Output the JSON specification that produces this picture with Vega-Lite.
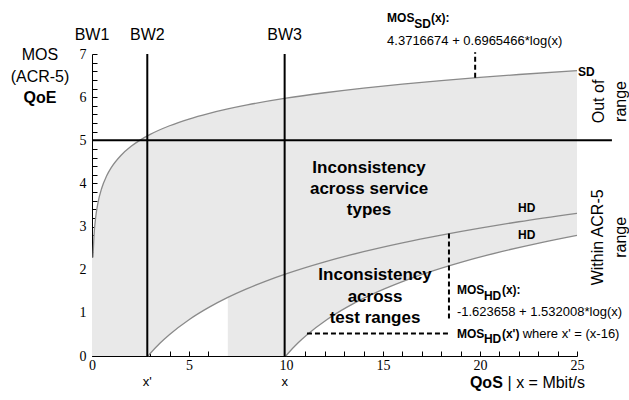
{
  "$schema": "https://vega.github.io/schema/vega-lite/v6.json",
  "width": 485,
  "height": 302,
  "autosize": {"type": "none"},
  "padding": {"left": 92, "top": 54, "right": 52, "bottom": 44},
  "background": "white",
  "config": {
    "view": {"stroke": null},
    "font": "Liberation Sans",
    "axis": {
      "grid": false,
      "title": null,
      "domainColor": "black",
      "domainWidth": 1,
      "tickColor": "black",
      "tickWidth": 1,
      "labelColor": "black",
      "labelFontSize": 14,
      "zindex": 1
    }
  },
  "datasets": {
    "bands": [
      {"band": "A", "x": 0, "y": 0, "y2": 2.285},
      {"band": "A", "x": 0.05, "y": 0, "y2": 2.285},
      {"band": "A", "x": 0.1, "y": 0, "y2": 2.768},
      {"band": "A", "x": 0.2, "y": 0, "y2": 3.251},
      {"band": "A", "x": 0.3, "y": 0, "y2": 3.533},
      {"band": "A", "x": 0.5, "y": 0, "y2": 3.889},
      {"band": "A", "x": 0.75, "y": 0, "y2": 4.171},
      {"band": "A", "x": 1, "y": 0, "y2": 4.372},
      {"band": "A", "x": 1.5, "y": 0, "y2": 4.654},
      {"band": "A", "x": 2, "y": 0, "y2": 4.855},
      {"band": "A", "x": 2.5, "y": 0, "y2": 5.010},
      {"band": "A", "x": 2.886, "y": 0, "y2": 5.110},
      {"band": "A", "x": 3, "y": 0.059, "y2": 5.137},
      {"band": "A", "x": 3.5, "y": 0.296, "y2": 5.244},
      {"band": "A", "x": 4, "y": 0.500, "y2": 5.337},
      {"band": "A", "x": 5, "y": 0.842, "y2": 5.493},
      {"band": "A", "x": 6, "y": 1.121, "y2": 5.620},
      {"band": "A", "x": 7, "y": 1.358, "y2": 5.727},
      {"band": "A", "x": 8, "y": 1.562, "y2": 5.820},
      {"band": "A", "x": 9, "y": 1.743, "y2": 5.902},
      {"band": "A", "x": 10, "y": 1.904, "y2": 5.976},
      {"band": "A", "x": 12, "y": 2.183, "y2": 6.102},
      {"band": "A", "x": 14, "y": 2.419, "y2": 6.210},
      {"band": "A", "x": 16, "y": 2.624, "y2": 6.303},
      {"band": "A", "x": 18, "y": 2.804, "y2": 6.385},
      {"band": "A", "x": 20, "y": 2.966, "y2": 6.458},
      {"band": "A", "x": 22, "y": 3.112, "y2": 6.525},
      {"band": "A", "x": 25, "y": 3.308, "y2": 6.614},
      {"band": "B", "x": 7, "y": 0, "y2": 1.358},
      {"band": "B", "x": 8, "y": 0, "y2": 1.562},
      {"band": "B", "x": 9, "y": 0, "y2": 1.743},
      {"band": "B", "x": 9.986, "y": 0, "y2": 1.902},
      {"band": "B", "x": 10.1, "y": 0.059, "y2": 1.919},
      {"band": "B", "x": 10.6, "y": 0.296, "y2": 1.993},
      {"band": "B", "x": 11.1, "y": 0.500, "y2": 2.064},
      {"band": "B", "x": 12.1, "y": 0.842, "y2": 2.196},
      {"band": "B", "x": 13.1, "y": 1.121, "y2": 2.318},
      {"band": "B", "x": 14.1, "y": 1.358, "y2": 2.430},
      {"band": "B", "x": 15.1, "y": 1.562, "y2": 2.535},
      {"band": "B", "x": 16.1, "y": 1.743, "y2": 2.633},
      {"band": "B", "x": 17.1, "y": 1.904, "y2": 2.726},
      {"band": "B", "x": 19.1, "y": 2.183, "y2": 2.895},
      {"band": "B", "x": 21.1, "y": 2.419, "y2": 3.048},
      {"band": "B", "x": 23.1, "y": 2.624, "y2": 3.187},
      {"band": "B", "x": 25, "y": 2.796, "y2": 3.308}
    ],
    "curves": [
      {"curve": "SD", "x": 0.05, "y": 2.285},
      {"curve": "SD", "x": 0.1, "y": 2.768},
      {"curve": "SD", "x": 0.2, "y": 3.251},
      {"curve": "SD", "x": 0.3, "y": 3.533},
      {"curve": "SD", "x": 0.5, "y": 3.889},
      {"curve": "SD", "x": 0.75, "y": 4.171},
      {"curve": "SD", "x": 1, "y": 4.372},
      {"curve": "SD", "x": 1.5, "y": 4.654},
      {"curve": "SD", "x": 2, "y": 4.855},
      {"curve": "SD", "x": 2.5, "y": 5.010},
      {"curve": "SD", "x": 3, "y": 5.137},
      {"curve": "SD", "x": 4, "y": 5.337},
      {"curve": "SD", "x": 5, "y": 5.493},
      {"curve": "SD", "x": 6, "y": 5.620},
      {"curve": "SD", "x": 7, "y": 5.727},
      {"curve": "SD", "x": 8, "y": 5.820},
      {"curve": "SD", "x": 10, "y": 5.976},
      {"curve": "SD", "x": 12, "y": 6.102},
      {"curve": "SD", "x": 14, "y": 6.210},
      {"curve": "SD", "x": 16, "y": 6.303},
      {"curve": "SD", "x": 18, "y": 6.385},
      {"curve": "SD", "x": 20, "y": 6.458},
      {"curve": "SD", "x": 22, "y": 6.525},
      {"curve": "SD", "x": 25, "y": 6.614},
      {"curve": "HD", "x": 2.886, "y": 0},
      {"curve": "HD", "x": 3, "y": 0.059},
      {"curve": "HD", "x": 3.5, "y": 0.296},
      {"curve": "HD", "x": 4, "y": 0.500},
      {"curve": "HD", "x": 5, "y": 0.842},
      {"curve": "HD", "x": 6, "y": 1.121},
      {"curve": "HD", "x": 7, "y": 1.358},
      {"curve": "HD", "x": 8, "y": 1.562},
      {"curve": "HD", "x": 9, "y": 1.743},
      {"curve": "HD", "x": 10, "y": 1.904},
      {"curve": "HD", "x": 12, "y": 2.183},
      {"curve": "HD", "x": 14, "y": 2.419},
      {"curve": "HD", "x": 16, "y": 2.624},
      {"curve": "HD", "x": 18, "y": 2.804},
      {"curve": "HD", "x": 20, "y": 2.966},
      {"curve": "HD", "x": 22, "y": 3.112},
      {"curve": "HD", "x": 25, "y": 3.308},
      {"curve": "HDshift", "x": 9.986, "y": 0},
      {"curve": "HDshift", "x": 10.1, "y": 0.059},
      {"curve": "HDshift", "x": 10.6, "y": 0.296},
      {"curve": "HDshift", "x": 11.1, "y": 0.500},
      {"curve": "HDshift", "x": 12.1, "y": 0.842},
      {"curve": "HDshift", "x": 13.1, "y": 1.121},
      {"curve": "HDshift", "x": 14.1, "y": 1.358},
      {"curve": "HDshift", "x": 15.1, "y": 1.562},
      {"curve": "HDshift", "x": 16.1, "y": 1.743},
      {"curve": "HDshift", "x": 17.1, "y": 1.904},
      {"curve": "HDshift", "x": 19.1, "y": 2.183},
      {"curve": "HDshift", "x": 21.1, "y": 2.419},
      {"curve": "HDshift", "x": 23.1, "y": 2.624},
      {"curve": "HDshift", "x": 25, "y": 2.796}
    ],
    "vrules": [
      {"kind": "bandwidth", "name": "BW2", "x": 2.85, "y": 0, "y2": 7},
      {"kind": "bandwidth", "name": "BW3", "x": 9.93, "y": 0, "y2": 7},
      {"kind": "pointer", "name": "SD formula", "x": 19.75, "y": 6.45, "y2": 7.04},
      {"kind": "pointer", "name": "HD formula", "x": 18.4, "y": 2.838, "y2": 0.87}
    ],
    "hrules": [
      {"kind": "bandwidth", "name": "MOS 5", "y": 5, "x": 0, "x2": 26.8},
      {"kind": "pointer", "name": "HD shifted", "y": 0.52, "x": 11.08, "x2": 18.35}
    ],
    "labels": [
      {"kind": "bw", "text": "BW1", "x": 0, "y": 7.43},
      {"kind": "bw", "text": "BW2", "x": 2.85, "y": 7.43},
      {"kind": "bw", "text": "BW3", "x": 9.93, "y": 7.43},
      {"kind": "ylab", "text": "MOS", "x": -2.68, "y": 6.97},
      {"kind": "ylab", "text": "(ACR-5)", "x": -2.68, "y": 6.46},
      {"kind": "ylabBold", "text": "QoE", "x": -2.68, "y": 5.99},
      {"kind": "eqBold", "text": "MOS", "x": 15.21, "y": 7.83},
      {"kind": "eqSub", "text": "SD", "x": 16.61, "y": 7.69},
      {"kind": "eqBold", "text": "(x):", "x": 17.47, "y": 7.83},
      {"kind": "eq", "text": "4.3716674 + 0.6965466*log(x)", "x": 15.21, "y": 7.31},
      {"kind": "curveTag", "text": "SD", "x": 25.05, "y": 6.58},
      {"kind": "curveTag", "text": "HD", "x": 21.96, "y": 3.42},
      {"kind": "curveTag", "text": "HD", "x": 21.96, "y": 2.80},
      {"kind": "side", "text": "Out of", "x": 26.13, "y": 5.9},
      {"kind": "side", "text": "range", "x": 27.27, "y": 5.9},
      {"kind": "side", "text": "Within ACR-5", "x": 26.08, "y": 2.75},
      {"kind": "side", "text": "range", "x": 27.27, "y": 2.75},
      {"kind": "region", "text": "Inconsistency", "x": 14.28, "y": 4.35},
      {"kind": "region", "text": "across service", "x": 14.28, "y": 3.86},
      {"kind": "region", "text": "types", "x": 14.28, "y": 3.38},
      {"kind": "region", "text": "Inconsistency", "x": 14.59, "y": 1.87},
      {"kind": "region", "text": "across", "x": 14.59, "y": 1.36},
      {"kind": "region", "text": "test ranges", "x": 14.59, "y": 0.87},
      {"kind": "eqBold", "text": "MOS", "x": 18.81, "y": 1.52},
      {"kind": "eqSub", "text": "HD", "x": 20.2, "y": 1.39},
      {"kind": "eqBold", "text": "(x):", "x": 21.13, "y": 1.52},
      {"kind": "eq", "text": "-1.623658 + 1.532008*log(x)", "x": 18.81, "y": 1.03},
      {"kind": "eqBold", "text": "MOS", "x": 18.81, "y": 0.52},
      {"kind": "eqSub", "text": "HD", "x": 20.2, "y": 0.39},
      {"kind": "eqBold", "text": "(x')", "x": 21.13, "y": 0.52},
      {"kind": "eq", "text": "where x' = (x-16)", "x": 22.2, "y": 0.52},
      {"kind": "tick", "text": "x'", "x": 2.85, "y": -0.6},
      {"kind": "tick", "text": "x", "x": 9.93, "y": -0.6},
      {"kind": "qosBold", "text": "QoS", "x": 19.48, "y": -0.63},
      {"kind": "qos", "text": "| x = Mbit/s", "x": 21.42, "y": -0.63}
    ]
  },
  "encoding": {
    "x": {"field": "x", "type": "quantitative", "scale": {"domain": [0, 25], "nice": false, "zero": false},
      "axis": {
        "values": [0,1,2,3,4,5,6,7,8,9,10,11,12,13,14,15,16,17,18,19,20,21,22,23,24,25],
        "labelExpr": "datum.value % 5 == 0 ? datum.label : ''",
        "labelFont": "Liberation Serif, Times New Roman, DejaVu Serif, serif",
        "tickSize": -5,
        "labelPadding": 7,
        "labelFlush": false,
        "labelOverlap": false,
        "labelBound": false
      }},
    "y": {"field": "y", "type": "quantitative", "scale": {"domain": [0, 7], "nice": false, "zero": false},
      "axis": {
        "values": [0,0.2,0.4,0.6,0.8,1,1.2,1.4,1.6,1.8,2,2.2,2.4,2.6,2.8,3,3.2,3.4,3.6,3.8,4,4.2,4.4,4.6,4.8,5,5.2,5.4,5.6,5.8,6,6.2,6.4,6.6,6.8,7],
        "labelExpr": "abs(datum.value - round(datum.value)) < 0.001 ? format(round(datum.value), 'd') : ''",
        "labelFont": "Liberation Serif, Times New Roman, DejaVu Serif, serif",
        "tickSize": -5,
        "labelPadding": 11,
        "labelFlush": false,
        "labelOverlap": false,
        "labelBound": false
      }}
  },
  "layer": [
    {
      "data": {"name": "bands"},
      "mark": {"type": "area", "color": "#e9e9e9", "interpolate": "monotone", "opacity": 1},
      "encoding": {
        "y2": {"field": "y2"},
        "detail": {"field": "band"}
      }
    },
    {
      "data": {"name": "curves"},
      "mark": {"type": "line", "color": "#8a8a8a", "strokeWidth": 1.3, "interpolate": "monotone"},
      "encoding": {
        "detail": {"field": "curve"}
      }
    },
    {
      "data": {"name": "vrules"},
      "transform": [{"filter": "datum.kind == 'bandwidth'"}],
      "mark": {"type": "rule", "color": "black", "strokeWidth": 2},
      "encoding": {"y2": {"field": "y2"}}
    },
    {
      "data": {"name": "hrules"},
      "transform": [{"filter": "datum.kind == 'bandwidth'"}],
      "mark": {"type": "rule", "color": "black", "strokeWidth": 2},
      "encoding": {"x2": {"field": "x2"}}
    },
    {
      "data": {"name": "vrules"},
      "transform": [{"filter": "datum.kind == 'pointer'"}],
      "mark": {"type": "rule", "color": "black", "strokeWidth": 2, "strokeDash": [5, 3]},
      "encoding": {"y2": {"field": "y2"}}
    },
    {
      "data": {"name": "hrules"},
      "transform": [{"filter": "datum.kind == 'pointer'"}],
      "mark": {"type": "rule", "color": "black", "strokeWidth": 2, "strokeDash": [5, 3]},
      "encoding": {"x2": {"field": "x2"}}
    },
    {
      "data": {"name": "labels"},
      "transform": [{"filter": "datum.kind == 'bw' || datum.kind == 'ylab'"}],
      "mark": {"type": "text", "fontSize": 16, "align": "center", "baseline": "middle", "color": "black"},
      "encoding": {"text": {"field": "text"}}
    },
    {
      "data": {"name": "labels"},
      "transform": [{"filter": "datum.kind == 'ylabBold'"}],
      "mark": {"type": "text", "fontSize": 16, "fontWeight": "bold", "align": "center", "baseline": "middle", "color": "black"},
      "encoding": {"text": {"field": "text"}}
    },
    {
      "data": {"name": "labels"},
      "transform": [{"filter": "datum.kind == 'eqBold' || datum.kind == 'eqSub' || datum.kind == 'curveTag'"}],
      "mark": {"type": "text", "fontSize": 12, "fontWeight": "bold", "align": "left", "baseline": "middle", "color": "black"},
      "encoding": {"text": {"field": "text"}}
    },
    {
      "data": {"name": "labels"},
      "transform": [{"filter": "datum.kind == 'eq'"}],
      "mark": {"type": "text", "fontSize": 13, "align": "left", "baseline": "middle", "color": "black"},
      "encoding": {"text": {"field": "text"}}
    },
    {
      "data": {"name": "labels"},
      "transform": [{"filter": "datum.kind == 'region'"}],
      "mark": {"type": "text", "fontSize": 17, "fontWeight": "bold", "align": "center", "baseline": "middle", "color": "black"},
      "encoding": {"text": {"field": "text"}}
    },
    {
      "data": {"name": "labels"},
      "transform": [{"filter": "datum.kind == 'side'"}],
      "mark": {"type": "text", "fontSize": 16, "angle": 270, "align": "center", "baseline": "middle", "color": "black"},
      "encoding": {"text": {"field": "text"}}
    },
    {
      "data": {"name": "labels"},
      "transform": [{"filter": "datum.kind == 'tick'"}],
      "mark": {"type": "text", "fontSize": 13, "align": "center", "baseline": "middle", "color": "black"},
      "encoding": {"text": {"field": "text"}}
    },
    {
      "data": {"name": "labels"},
      "transform": [{"filter": "datum.kind == 'qosBold'"}],
      "mark": {"type": "text", "fontSize": 16, "fontWeight": "bold", "align": "left", "baseline": "middle", "color": "black"},
      "encoding": {"text": {"field": "text"}}
    },
    {
      "data": {"name": "labels"},
      "transform": [{"filter": "datum.kind == 'qos'"}],
      "mark": {"type": "text", "fontSize": 16, "align": "left", "baseline": "middle", "color": "black"},
      "encoding": {"text": {"field": "text"}}
    }
  ]
}
